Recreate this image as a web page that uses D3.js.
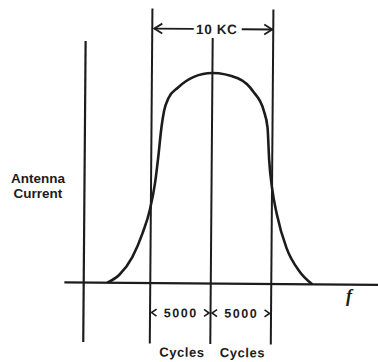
<!DOCTYPE html>
<html>
<head>
<meta charset="utf-8">
<script src="https://cdn.jsdelivr.net/npm/d3@7"></script>
<style>
  html, body { margin: 0; padding: 0; background: #fff; }
  svg { display: block; }
  text { font-family: "Liberation Sans", Arial, sans-serif; font-weight: bold; fill: #1c1c1c; }
</style>
</head>
<body>
<svg id="chart" width="378" height="362"></svg>
<script>
// ---- data (frequency offset from carrier in kHz, relative antenna current %) ----
const freqKHz = [-8.55, -7.56, -6.49, -5.66, -5.08, -4.67, -4.42, -4.17, -3.98, -3.6, -2.85, -1.53, 0, 2.1, 3.43, 4.26, 4.59, 4.75, 5.0, 5.41, 6.24, 7.31, 8.39];
const current = [0, 3.8, 12.4, 23.8, 34.8, 47.6, 60, 74.3, 81.5, 88.1, 92.9, 98.1, 100, 97.6, 91, 82.4, 74.3, 58.6, 45.7, 33.3, 17.1, 6.2, 0];
const markerKHz = [-5, 0, 5];
const bandLabels = ["5000", "5000"];
const bandUnit = "Cycles";
const bandwidthLabel = "10 KC";
const yLabelLines = ["Antenna", "Current"];
const xLabel = "f";

// ---- layout ----
const W = 378, H = 362;
const svg = d3.select("#chart");
const x = d3.scaleLinear().domain([-5, 5]).range([151, 272]);
const y = d3.scaleLinear().domain([0, 100]).range([283.5, 73]);
const ink = "#1c1c1c";

const g = svg.append("g").attr("transform", "rotate(0.45, 211, 190)");

// horizontal (frequency) axis
g.append("line")
  .attr("x1", x(-12.1)).attr("x2", W + 5)
  .attr("y1", y(0)).attr("y2", y(0))
  .attr("stroke", ink).attr("stroke-width", 2.2);

// vertical (current) axis
g.append("line")
  .attr("x1", x(-10.5)).attr("x2", x(-10.5))
  .attr("y1", 42).attr("y2", 343)
  .attr("stroke", ink).attr("stroke-width", 2.2);

// marker lines at carrier and band edges
g.selectAll("line.marker").data(markerKHz).join("line")
  .attr("class", "marker")
  .attr("x1", d => x(d)).attr("x2", d => x(d))
  .attr("y1", d => d === 0 ? 38 : 9)
  .attr("y2", 344)
  .attr("stroke", ink).attr("stroke-width", 2);

// resonance curve
const line = d3.line()
  .x((d, i) => x(freqKHz[i]))
  .y((d, i) => y(current[i]))
  .curve(d3.curveMonotoneX);
g.append("path")
  .datum(current)
  .attr("d", line)
  .attr("fill", "none")
  .attr("stroke", ink)
  .attr("stroke-width", 2.6)
  .attr("stroke-linejoin", "round");

// arrowhead helper
function head(sel, xTip, yy, dir, len, half, sw) {
  sel.append("path")
    .attr("d", `M${xTip + dir * len},${yy - half} L${xTip},${yy} L${xTip + dir * len},${yy + half}`)
    .attr("fill", "none").attr("stroke", ink).attr("stroke-width", sw)
    .attr("stroke-linejoin", "miter");
}

// top bandwidth dimension: 10 KC
const topY = 29;
const cx = x(0) + 4;
g.append("text")
  .attr("x", cx).attr("y", topY + 5)
  .attr("text-anchor", "middle")
  .attr("font-size", 13.5)
  .attr("letter-spacing", 0.6)
  .text(bandwidthLabel);
g.append("line").attr("x1", x(-5) + 2).attr("x2", cx - 23).attr("y1", topY).attr("y2", topY)
  .attr("stroke", ink).attr("stroke-width", 1.8);
g.append("line").attr("x1", cx + 25).attr("x2", x(5) - 1).attr("y1", topY).attr("y2", topY)
  .attr("stroke", ink).attr("stroke-width", 1.8);
head(g, x(-5) + 2, topY, 1, 8, 5, 1.8);
head(g, x(5) - 1, topY, -1, 8, 5, 1.8);

// lower band dimensions: 5000 / 5000 Cycles
const lowY = 313;
const bands = [[-5, 0], [0, 5]];
bands.forEach((b, i) => {
  const a = x(b[0]) + 1.5, c = x(b[1]) - 1.5;
  const mid = (a + c) / 2;
  head(g, a, lowY, 1, 5, 3.5, 1.6);
  head(g, c, lowY, -1, 5, 3.5, 1.6);
  g.append("text")
    .attr("x", mid + 0.5).attr("y", lowY + 4.5)
    .attr("text-anchor", "middle")
    .attr("font-size", 12.5)
    .attr("letter-spacing", 1.5)
    .text(bandLabels[i]);
  g.append("text")
    .attr("x", mid + 2).attr("y", 357)
    .attr("text-anchor", "middle")
    .attr("font-size", 13)
    .attr("letter-spacing", 0.6)
    .text(bandUnit);
});

// y label
svg.append("text")
  .attr("x", 38).attr("y", 183)
  .attr("text-anchor", "middle")
  .attr("font-size", 13.5)
  .selectAll("tspan").data(yLabelLines).join("tspan")
  .attr("x", 38).attr("dy", (d, i) => i === 0 ? 0 : 15)
  .text(d => d);

// x label
svg.append("text")
  .attr("x", 349).attr("y", 302)
  .attr("text-anchor", "middle")
  .style("font-family", "'Liberation Serif', 'DejaVu Serif', serif")
  .style("font-style", "italic")
  .style("font-weight", "bold")
  .attr("font-size", 18)
  .text(xLabel);
</script>
</body>
</html>
